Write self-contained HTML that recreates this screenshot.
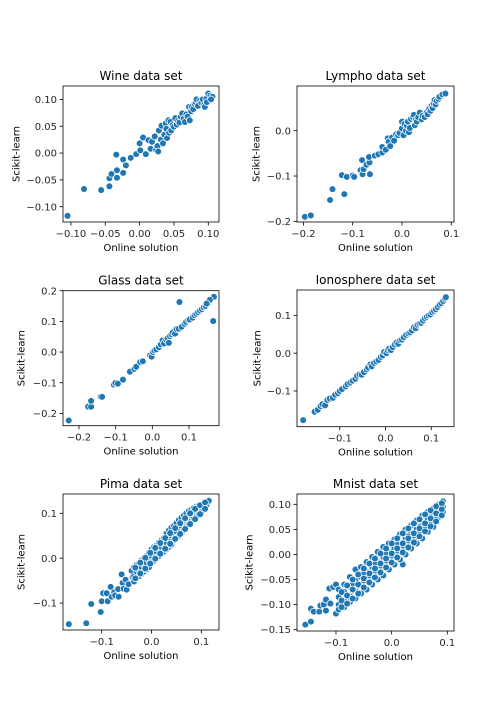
<!DOCTYPE html>
<html><head><meta charset="utf-8"><style>
body{margin:0;background:#fff}
svg{display:block;font-family:"DejaVu Sans","Liberation Sans",sans-serif}
</style></head><body>
<svg id="fig" width="504" height="720" viewBox="0 0 504 720"></svg>
<script>
// ---- data ----
const wineX=[-0.105,-0.081,-0.056,-0.044,-0.044,-0.041,-0.034,-0.033,-0.033,-0.024,-0.024,-0.020,-0.013,-0.005,0.000,0.001,0.005,0.009,0.013,0.016,0.018,0.022,0.024,0.026,0.028,0.027,0.031,0.032,0.034,0.036,0.038,0.039,0.040,0.042,0.043,0.045,0.046,0.048,0.050,0.052,0.054,0.056,0.058,0.060,0.062,0.064,0.066,0.068,0.070,0.072,0.073,0.075,0.076,0.078,0.080,0.082,0.083,0.085,0.088,0.090,0.092,0.094,0.095,0.097,0.098,0.100,0.103,0.106,0.104];
const wineY=[-0.117,-0.067,-0.069,-0.062,-0.047,-0.039,-0.003,-0.032,-0.046,-0.012,-0.037,-0.023,-0.009,-0.002,0.018,0.005,0.029,-0.002,0.024,0.008,0.021,0.031,0.006,0.013,0.042,0.003,0.025,0.051,0.018,0.034,0.055,0.045,0.028,0.061,0.038,0.058,0.042,0.052,0.049,0.065,0.053,0.060,0.057,0.068,0.074,0.064,0.058,0.072,0.068,0.086,0.061,0.078,0.086,0.082,0.092,0.094,0.100,0.088,0.098,0.094,0.100,0.090,0.086,0.101,0.095,0.111,0.107,0.105,0.100];
const lymX=[-0.197,-0.185,-0.146,-0.141,-0.122,-0.117,-0.112,-0.100,-0.097,-0.084,-0.081,-0.080,-0.078,-0.072,-0.066,-0.067,-0.065,-0.055,-0.048,-0.040,-0.040,-0.033,-0.029,-0.027,-0.024,-0.020,-0.016,-0.012,-0.008,-0.005,0.000,0.000,0.003,0.005,0.008,0.010,0.012,0.014,0.016,0.018,0.022,0.024,0.026,0.028,0.030,0.033,0.036,0.040,0.042,0.046,0.050,0.052,0.055,0.058,0.060,0.062,0.064,0.066,0.068,0.070,0.074,0.076,0.082,0.088];
const lymY=[-0.190,-0.187,-0.153,-0.129,-0.098,-0.140,-0.102,-0.099,-0.102,-0.087,-0.065,-0.096,-0.085,-0.075,-0.070,-0.058,-0.096,-0.055,-0.052,-0.048,-0.036,-0.042,-0.017,-0.024,-0.034,-0.015,-0.022,-0.008,-0.010,-0.005,0.005,0.020,-0.010,0.015,0.000,0.011,0.020,-0.003,0.006,0.026,0.030,0.035,0.012,0.024,0.020,0.030,0.040,0.025,0.033,0.030,0.040,0.036,0.048,0.044,0.055,0.050,0.060,0.068,0.058,0.066,0.070,0.075,0.080,0.082];
const glassX=[-0.228,-0.175,-0.167,-0.167,-0.141,-0.137,-0.105,-0.101,-0.094,-0.080,-0.061,-0.049,-0.044,-0.033,-0.026,-0.006,-0.002,0.002,0.006,0.011,0.018,0.023,0.028,0.032,0.038,0.042,0.045,0.048,0.052,0.056,0.062,0.066,0.072,0.074,0.080,0.088,0.092,0.098,0.102,0.110,0.115,0.120,0.125,0.130,0.135,0.140,0.145,0.150,0.154,0.158,0.162,0.165,0.168,0.166,0.157,0.148];
const glassY=[-0.223,-0.178,-0.178,-0.159,-0.146,-0.146,-0.106,-0.101,-0.103,-0.090,-0.064,-0.055,-0.048,-0.033,-0.030,-0.011,-0.015,0.000,0.005,0.009,0.016,0.025,0.038,0.028,0.040,0.045,0.030,0.052,0.058,0.064,0.060,0.075,0.076,0.163,0.082,0.092,0.098,0.104,0.106,0.112,0.120,0.125,0.130,0.135,0.140,0.146,0.150,0.158,0.162,0.168,0.175,0.178,0.180,0.101,0.170,0.158];
const ionoX=[-0.180,-0.155,-0.148,-0.142,-0.138,-0.132,-0.127,-0.122,-0.115,-0.110,-0.104,-0.100,-0.095,-0.087,-0.083,-0.077,-0.072,-0.066,-0.062,-0.057,-0.052,-0.047,-0.041,-0.038,-0.033,-0.030,-0.025,-0.020,-0.015,-0.010,-0.006,-0.003,0.002,0.005,0.008,0.012,0.016,0.020,0.024,0.028,0.032,0.036,0.040,0.045,0.050,0.054,0.058,0.062,0.066,0.070,0.074,0.078,0.082,0.086,0.090,0.094,0.098,0.102,0.106,0.110,0.114,0.118,0.122,0.126,0.130,0.132];
const ionoY=[-0.177,-0.155,-0.150,-0.140,-0.135,-0.138,-0.124,-0.120,-0.118,-0.110,-0.106,-0.100,-0.095,-0.088,-0.082,-0.078,-0.073,-0.068,-0.060,-0.056,-0.057,-0.050,-0.043,-0.038,-0.030,-0.035,-0.026,-0.022,-0.018,-0.010,-0.006,0.003,0.000,0.008,0.012,0.008,0.016,0.023,0.028,0.025,0.034,0.036,0.042,0.048,0.052,0.055,0.060,0.068,0.066,0.075,0.078,0.080,0.086,0.092,0.096,0.100,0.102,0.108,0.112,0.116,0.122,0.128,0.132,0.138,0.144,0.148];
const pimaX=[-0.166,-0.131,-0.121,-0.102,-0.100,-0.097,-0.090,-0.088,-0.082,-0.080,-0.075,-0.073,-0.067,-0.066,-0.060,-0.058,-0.056,-0.052,-0.050,-0.046,-0.040,-0.038,-0.035,
-0.035,-0.035,-0.030,-0.030,-0.030,-0.025,-0.025,-0.025,-0.020,-0.020,-0.020,-0.015,-0.015,-0.015,-0.010,-0.010,-0.010,-0.005,-0.005,-0.005,0.000,0.000,0.000,0.005,0.005,0.005,0.010,0.010,0.010,0.015,0.015,0.015,0.020,0.020,0.020,0.025,0.025,0.025,0.030,0.030,0.030,0.035,0.035,0.035,0.040,0.040,0.040,0.045,0.045,0.045,0.050,0.050,0.050,0.055,0.055,0.055,0.060,0.060,0.060,0.065,0.065,0.065,0.070,0.070,0.070,0.075,0.075,0.075,0.080,0.080,0.080,0.085,0.085,0.085,0.090,0.090,0.090,0.095,0.095,0.095,0.100,0.100,0.100,0.105,0.105,0.110,0.110,0.115,
-0.0325,-0.0325,-0.0225,-0.0225,-0.0125,-0.0125,-0.0025,-0.0025,0.0075,0.0075,0.0175,0.0175,0.0275,0.0275,0.0375,0.0375,0.0475,0.0475,0.0575,0.0575,0.0675,0.0675,0.0775,0.0775,0.0875,0.0875,0.0975,0.0975,0.1075,0.1075];
const pimaY=[-0.147,-0.145,-0.102,-0.120,-0.096,-0.078,-0.078,-0.096,-0.064,-0.086,-0.076,-0.083,-0.069,-0.086,-0.036,-0.055,-0.068,-0.048,-0.070,-0.058,-0.028,-0.042,-0.052,
-0.020,-0.040,-0.015,-0.030,-0.045,-0.012,-0.028,-0.040,-0.005,-0.020,-0.035,0.000,-0.015,-0.030,0.005,-0.010,-0.025,0.012,-0.005,-0.020,0.020,0.005,-0.010,0.025,0.010,-0.005,0.028,0.015,0.000,0.035,0.020,0.005,0.040,0.025,0.010,0.045,0.030,0.015,0.055,0.035,0.020,0.062,0.045,0.025,0.068,0.050,0.030,0.072,0.055,0.040,0.078,0.060,0.045,0.085,0.068,0.050,0.090,0.072,0.055,0.095,0.078,0.062,0.100,0.085,0.070,0.105,0.090,0.075,0.108,0.095,0.082,0.112,0.100,0.088,0.115,0.104,0.092,0.118,0.108,0.098,0.120,0.112,0.102,0.122,0.115,0.124,0.118,0.128,
-0.021,-0.045,-0.010,-0.034,0.001,-0.023,0.012,-0.012,0.023,-0.001,0.034,0.010,0.045,0.021,0.056,0.032,0.067,0.043,0.078,0.054,0.089,0.065,0.100,0.076,0.110,0.087,0.118,0.098,0.124,0.110];
const mnX=[-0.155,-0.145,-0.145,-0.140,-0.130,-0.128,-0.122,-0.118,-0.118,-0.112,-0.110,-0.105,-0.100,-0.100,0.020,
-0.095,-0.095,-0.095,-0.095,-0.085,-0.085,-0.085,-0.085,-0.075,-0.075,-0.075,-0.075,-0.065,-0.065,-0.065,-0.065,-0.055,-0.055,-0.055,-0.055,-0.045,-0.045,-0.045,-0.045,-0.035,-0.035,-0.035,-0.035,-0.025,-0.025,-0.025,-0.025,-0.015,-0.015,-0.015,-0.015,-0.005,-0.005,-0.005,-0.005,0.005,0.005,0.005,0.005,0.015,0.015,0.015,0.015,0.025,0.025,0.025,0.025,0.035,0.035,0.035,0.035,0.045,0.045,0.045,0.045,0.055,0.055,0.055,0.055,0.065,0.065,0.065,0.065,0.075,0.075,0.075,0.075,0.085,0.085,0.085,0.092,0.092,0.092,
-0.090,-0.080,-0.070,-0.060,-0.050,-0.040,-0.030,-0.020,-0.010,0.000,0.010,0.020,0.030,0.040,0.050,0.060,0.070,0.080,-0.070,-0.050,-0.030,-0.010,0.010,0.030,0.050,0.070,
-0.09,-0.09,-0.09,-0.08,-0.08,-0.08,-0.07,-0.07,-0.07,-0.06,-0.06,-0.06,-0.05,-0.05,-0.05,-0.04,-0.04,-0.04,-0.03,-0.03,-0.03,-0.02,-0.02,-0.02,-0.01,-0.01,-0.01,0.00,0.00,0.00,0.01,0.01,0.01,0.02,0.02,0.02,0.03,0.03,0.03,0.04,0.04,0.04,0.05,0.05,0.05,0.06,0.06,0.06,0.07,0.07,0.07,0.08,0.08,0.08,0.09,0.09,0.09];
const mnY=[-0.140,-0.134,-0.108,-0.114,-0.114,-0.102,-0.100,-0.112,-0.090,-0.068,-0.098,-0.065,-0.118,-0.060,-0.020,
-0.070,-0.085,-0.100,-0.110,-0.060,-0.075,-0.090,-0.105,-0.045,-0.065,-0.080,-0.095,-0.030,-0.050,-0.070,-0.088,-0.025,-0.045,-0.060,-0.078,-0.015,-0.035,-0.050,-0.070,-0.005,-0.025,-0.045,-0.060,0.005,-0.015,-0.035,-0.050,0.015,-0.005,-0.025,-0.042,0.022,0.005,-0.015,-0.030,0.030,0.012,-0.005,-0.020,0.040,0.022,0.005,-0.010,0.050,0.032,0.015,0.000,0.058,0.042,0.025,0.012,0.068,0.050,0.035,0.022,0.078,0.060,0.045,0.032,0.085,0.070,0.055,0.045,0.092,0.078,0.065,0.055,0.100,0.088,0.075,0.106,0.095,0.085,
-0.092,-0.082,-0.072,-0.062,-0.052,-0.042,-0.032,-0.022,-0.012,-0.002,0.008,0.018,0.028,0.038,0.048,0.058,0.068,0.078,-0.058,-0.038,-0.018,0.002,0.020,0.036,0.055,0.072,
-0.075,-0.092,-0.105,-0.062,-0.082,-0.098,-0.050,-0.070,-0.088,-0.040,-0.060,-0.078,-0.028,-0.048,-0.066,-0.018,-0.038,-0.056,-0.008,-0.028,-0.046,0.002,-0.018,-0.036,0.012,-0.008,-0.026,0.022,0.002,-0.016,0.032,0.012,-0.006,0.042,0.022,0.004,0.052,0.032,0.014,0.062,0.042,0.024,0.070,0.052,0.036,0.080,0.062,0.046,0.088,0.072,0.056,0.096,0.082,0.066,0.102,0.090,0.078];
const wineTicks=[-0.10,-0.05,0.00,0.05,0.10];
const lymXTicks=[-0.2,-0.1,0.0,0.1];
const lymYTicks=[-0.2,-0.1,0.0];
const glassXTicks=[-0.2,-0.1,0.0,0.1];
const glassYTicks=[-0.2,-0.1,0.0,0.1,0.2];
const tenthTicks=[-0.1,0.0,0.1];
const mnYTicks=[-0.15,-0.10,-0.05,0.00,0.05,0.10];

const NS='http://www.w3.org/2000/svg';
const fig=document.getElementById('fig');
function mk(tag,attrs,parent){const e=document.createElementNS(NS,tag);for(const k in attrs)e.setAttribute(k,attrs[k]);(parent||fig).appendChild(e);return e;}
function fmt(v,d){const s=Math.abs(v).toFixed(d);return (v<-1e-9?'\u2212':'')+s;}

const panels=[
 {id:'wine',title:'Wine data set',box:[63,86,219,222],xd:[-0.1116,0.1156],yd:[-0.1285,0.125],xs:wineX,ys:wineY,xt:wineTicks,yt:wineTicks,xdec:2,ydec:2,ylx:16},
 {id:'lympho',title:'Lympho data set',box:[297,86,454,222],xd:[-0.213,0.1055],yd:[-0.2015,0.0987],xs:lymX,ys:lymY,xt:lymXTicks,yt:lymYTicks,xdec:1,ydec:1,ylx:256},
 {id:'glass',title:'Glass data set',box:[63,290.7,219,425.7],xd:[-0.2436,0.1818],yd:[-0.240,0.2],xs:glassX,ys:glassY,xt:glassXTicks,yt:glassYTicks,xdec:1,ydec:1,ylx:21},
 {id:'ionosphere',title:'Ionosphere data set',box:[297,290,454,426.7],xd:[-0.1934,0.1497],yd:[-0.1944,0.167],xs:ionoX,ys:ionoY,xt:tenthTicks,yt:tenthTicks,xdec:1,ydec:1,ylx:257},
 {id:'pima',title:'Pima data set',box:[63,494,219,630],xd:[-0.1777,0.1355],yd:[-0.160,0.143],xs:pimaX,ys:pimaY,xt:tenthTicks,yt:tenthTicks,xdec:1,ydec:1,ylx:21},
 {id:'mnist',title:'Mnist data set',box:[297,494,454,631],xd:[-0.170,0.112],yd:[-0.1527,0.1206],xs:mnX,ys:mnY,xt:tenthTicks,yt:mnYTicks,xdec:1,ydec:2,ylx:249}
];

panels.forEach(p=>{
 const [x0,y0,x1,y1]=p.box;
 const sx=v=>x0+(v-p.xd[0])/(p.xd[1]-p.xd[0])*(x1-x0);
 const sy=v=>y1-(v-p.yd[0])/(p.yd[1]-p.yd[0])*(y1-y0);
 const g=mk('g',{});
 
 
 const cid='clip-'+p.id;
 const cp=mk('clipPath',{id:cid},g);
 mk('rect',{x:x0,y:y0,width:x1-x0,height:y1-y0},cp);
 const pts=mk('g',{'clip-path':'url(#'+cid+')'},g);
 
 
 for(let i=0;i<p.xs.length;i++){
  const c=mk('circle',{cx:sx(p.xs[i]),cy:sy(p.ys[i]),r:3.4,fill:'#1f77b4',stroke:'#fff','stroke-width':0.75},pts);
  
  
 }
 const fr=mk('rect',{x:x0,y:y0,width:x1-x0,height:y1-y0,fill:'none',stroke:'#000','stroke-width':0.8},g);
 
 
 p.xt.forEach(v=>{
  const x=sx(v);
  mk('line',{x1:x,x2:x,y1:y1,y2:y1+3.5,stroke:'#000','stroke-width':0.8},g);
  const t=mk('text',{x:x,y:y1+15,'text-anchor':'middle','font-size':10,fill:'#262626'},g);
  t.textContent=fmt(v,p.xdec);
  
  
 });
 p.yt.forEach(v=>{
  const y=sy(v);
  mk('line',{x1:x0-3.5,x2:x0,y1:y,y2:y,stroke:'#000','stroke-width':0.8},g);
  const t=mk('text',{x:x0-6,y:y+3.6,'text-anchor':'end','font-size':10,fill:'#262626'},g);
  t.textContent=fmt(v,p.ydec);
  
  
 });
 const tt=mk('text',{x:(x0+x1)/2,y:y0-6,'text-anchor':'middle','font-size':12,fill:'#000'},g);
 tt.textContent=p.title;
 
 
 const xl=mk('text',{x:(x0+x1)/2,y:y1+29,'text-anchor':'middle','font-size':10,fill:'#000'},g);
 xl.textContent='Online solution';
 
 
 const ym=(y0+y1)/2;
 const yl=mk('text',{x:p.ylx+3.5,y:ym,'text-anchor':'middle','font-size':10,fill:'#000',transform:'rotate(-90 '+(p.ylx+3.5)+' '+ym+')'},g);
 yl.textContent='Scikit-learn';
 
 
});
</script>
</body></html>
